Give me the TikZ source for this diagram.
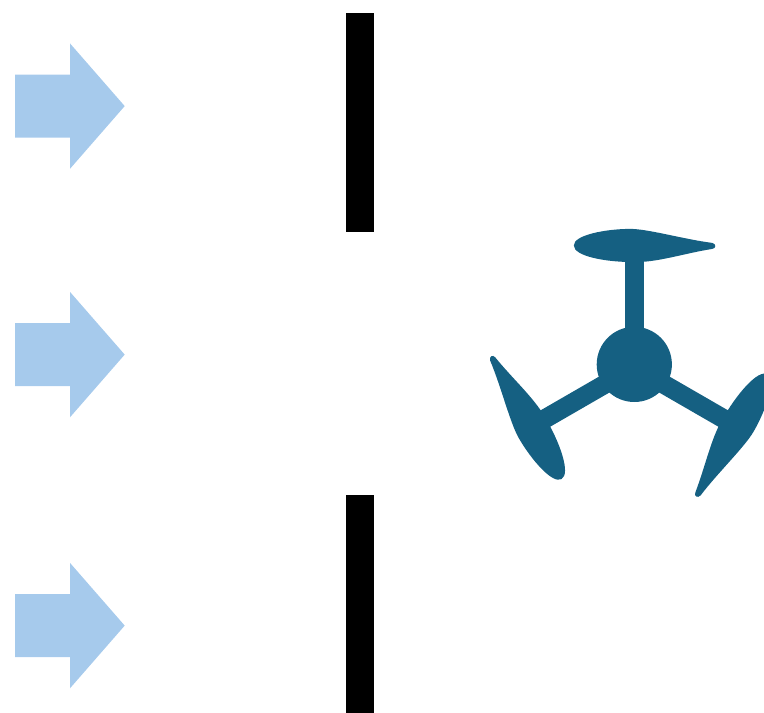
\documentclass[tikz,border=0pt]{standalone}
\definecolor{lightarrow}{HTML}{A6CAEC}
\definecolor{rotorblue}{HTML}{156082}
\tikzset{
  flowarrow/.style={fill=lightarrow,draw=none},
  wallbar/.style={fill=black,draw=none},
  rotor/.style={fill=rotorblue,draw=none},
  bladepart/.pic={
    \fill[rotor] (-9.5,-20) rectangle (9.5,-115);
    \fill[rotor] (-60.5,-119)
      .. controls (-60.5,-129.5) and (-28,-135.5) .. (-4,-135.5)
      .. controls (14,-135.5) and (50,-125) .. (78,-121.5)
      .. controls (82,-120.5) and (82,-116) .. (78,-115.5)
      .. controls (50,-111) and (25,-102.5) .. (2,-102.3)
      .. controls (-28,-102) and (-60.5,-108) .. (-60.5,-119) -- cycle;
  }
}
\begin{document}
\begin{tikzpicture}[x=0.75pt,y=-0.75pt]
\useasboundingbox (0,0) rectangle (764,713);
\clip (0,0) rectangle (764,713);
\foreach \cy in {106.1,354.6,625.6}{
  \fill[flowarrow] (15,\cy-31.5) -- (70,\cy-31.5) -- (70,\cy-62.7) -- (124.7,\cy)
    -- (70,\cy+62.7) -- (70,\cy+31.5) -- (15,\cy+31.5) -- cycle;
}
\fill[wallbar] (346,13) rectangle (374.2,232);
\fill[wallbar] (346,495.3) rectangle (374.2,713);
\begin{scope}[shift={(634.3,364.4)}]
  \fill[rotor] (0,0) circle [radius=37.6];
  \pic[rotate=0] {bladepart};
\end{scope}
\begin{scope}[shift={(634.3,367.2)}]
  \pic[rotate=120] {bladepart};
  \pic[rotate=-120] {bladepart};
\end{scope}
\end{tikzpicture}
\end{document}
